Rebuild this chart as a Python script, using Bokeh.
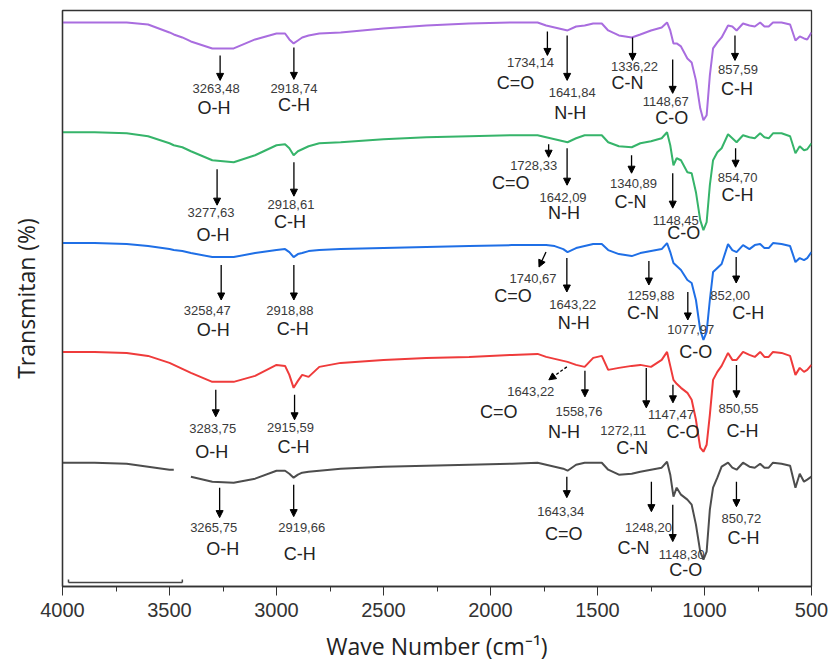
import numpy as np
from bokeh.plotting import figure
from bokeh.models import Range1d, FixedTicker, Arrow, NormalHead, Label
from bokeh.embed import file_html
from bokeh.resources import INLINE

nan = float("nan")

# ---------------- data ----------------
wavenumber = [4000, 3850, 3700, 3600, 3500, 3480, 3440, 3400, 3300, 3200,
              3100, 3000, 2960, 2940, 2920, 2900, 2880, 2850, 2800, 2700,
              2500, 2300, 2100, 1900, 1780, 1740, 1700, 1660, 1640, 1600,
              1560, 1520, 1480, 1450, 1400, 1340, 1300, 1250, 1200, 1175,
              1160, 1145, 1130, 1110, 1080, 1060, 1040, 1020, 1005, 990,
              975, 960, 940, 920, 890, 870, 850, 820, 790, 765,
              740, 720, 700, 680, 640, 600, 575, 555, 535, 520,
              500]

t_purple = [578, 578, 578, 576, 568, 566, 563, 559, 552, 552,
            561, 567, 567, 561, 557, 560, 563, 565, 567, 568,
            572, 575, 577, 578, 578, 575, 573, 571, 570, 574,
            575, 577, 577, 570, 565, 563, 566, 570, 573, 578,
            570, 557, 557, 554, 542, 538, 520, 492, 480, 485,
            525, 552, 558, 563, 575, 574, 570, 577, 575, 574,
            578, 574, 574, 578, 578, 576, 560, 564, 562, 561,
            568]

t_green = [468, 468, 467, 464, 457, 455, 453, 449, 440, 438,
           445, 455, 456, 452, 445, 449, 451, 454, 457, 458,
           461, 463, 464, 465, 465, 463, 461, 459, 458, 462,
           465, 465, 465, 458, 454, 453, 457, 459, 462, 468,
           455, 435, 442, 440, 428, 427, 408, 380, 370, 378,
           415, 440, 448, 452, 466, 462, 458, 465, 463, 462,
           467, 463, 462, 467, 467, 464, 447, 454, 450, 451,
           457]

t_blue = [357, 357, 356, 354, 351, 350, 349, 347, 343, 343,
          347, 350, 351, 348, 343, 346, 347, 349, 350, 351,
          352, 353, 354, 355, 355, 355, 354, 351, 348, 352,
          354, 356, 356, 350, 346, 344, 347, 349, 351, 357,
          348, 337, 334, 330, 320, 317, 300, 270, 260, 268,
          300, 328, 332, 336, 356, 350, 348, 355, 351, 355,
          356, 352, 352, 357, 356, 354, 338, 342, 340, 342,
          348]

t_red = [248, 248, 247, 244, 237, 235, 231, 227, 218, 218,
         224, 235, 234, 225, 212, 219, 225, 223, 233, 237,
         240, 242, 243, 245, 246, 243, 241, 239, 238, 235,
         233, 242, 244, 230, 232, 234, 235, 233, 240, 248,
         234, 220, 216, 212, 207, 200, 180, 152, 148, 155,
         185, 220, 228, 234, 247, 240, 240, 248, 245, 243,
         248, 243, 243, 248, 247, 244, 225, 232, 228, 230,
         235]

t_grey = [137, 137, 136, 133, 130, 130, nan, 123, 118, 117,
          121, 129, 129, 126, 122, 125, 127, 128, 129, 131,
          133, 134, 135, 136, 137, 135, 133, 131, 129, 135,
          137, 137, 137, 130, 125, 126, 128, 130, 132, 138,
          125, 103, 112, 105, 100, 95, 75, 48, 40, 48,
          90, 112, 122, 133, 137, 132, 130, 137, 133, 132,
          136, 132, 132, 137, 136, 134, 112, 126, 118, 120,
          123]

peaks_purple = ["3263,48", "2918,74", "1734,14", "1641,84", "1336,22", "1148,67", "857,59"]
groups_purple = ["O-H", "C-H", "C=O", "N-H", "C-N", "C-O", "C-H"]
peaks_green = ["3277,63", "2918,61", "1728,33", "1642,09", "1340,89", "1148,45", "854,70"]
groups_green = ["O-H", "C-H", "C=O", "N-H", "C-N", "C-O", "C-H"]
peaks_blue = ["3258,47", "2918,88", "1740,67", "1643,22", "1259,88", "1077,97", "852,00"]
groups_blue = ["O-H", "C-H", "C=O", "N-H", "C-N", "C-O", "C-H"]
peaks_red = ["3283,75", "2915,59", "1643,22", "1558,76", "1272,11", "1147,47", "850,55"]
groups_red = ["O-H", "C-H", "C=O", "N-H", "C-N", "C-O", "C-H"]
peaks_grey = ["3265,75", "2919,66", "1643,34", "1248,20", "1148,30", "850,72"]
groups_grey = ["O-H", "C-H", "C=O", "C-N", "C-O", "C-H"]

x_ticks = [4000, 3500, 3000, 2500, 2000, 1500, 1000, 500]

# ---------------- layout (pixel placements of annotations) ----------------
# (arrow top px, arrow bottom px, number dx, number y px, group dx, group y px, slant px, dashed)
lay_purple = [(55, 80, -4, 88, -6, 108, 0, False), (47, 79, 0, 88, 0, 105, 0, False),
              (31, 55, -17, 62, -32, 83, 0, False), (35, 80, 5, 92, 3, 113, 0, False),
              (37, 60, 2, 66, -5, 83, 0, False), (59, 93, -7, 101, -1, 118, 0, False),
              (35, 60, 3, 69, 2, 89, 0, False)]
lay_green = [(169, 205, -6, 212, -4, 235, 0, False), (162, 196, -3, 204, -4, 222, 0, False),
             (144, 157, -15, 165, -38, 183, 0, False), (148, 185, -4, 197, -3, 213, 0, False),
             (155, 173, 2, 183, -1, 202, 0, False), (173, 208, 3, 220, 11, 233, 0, False),
             (148, 167, 2, 177, 2, 195, 0, False)]
lay_blue = [(265, 300, -14, 311, -8, 330, 0, False), (265, 300, -4, 311, -1, 329, 0, False),
            (252, 267, -13, 278, -33, 296, -7, False), (258, 292, 6, 305, 7, 323, 0, False),
            (261, 285, 2, 295, -6, 313, 0, False), (292, 320, 3, 330, 8, 352, 0, False),
            (257, 283, -6, 295, 12, 313, 0, False)]
lay_red = [(390, 417, -3, 429, -4, 452, 0, False), (395, 420, -4, 428, -1, 447, 0, False),
           (367, 380, -36, 392, -68, 412, -18, True), (371, 397, -6, 412, -21, 432, 0, False),
           (368, 408, -23, 431, -14, 448, 0, False), (385, 403, -2, 415, 10, 432, 0, False),
           (365, 398, 2, 409, 6, 431, 0, False)]
lay_grey = [(488, 518, -6, 528, 3, 549, 0, False), (485, 517, 8, 528, 6, 554, 0, False),
            (477, 498, -6, 512, -3, 534, 0, False), (482, 512, -3, 528, -18, 548, 0, False),
            (505, 542, 9, 555, 13, 570, 0, False), (482, 507, 5, 519, 7, 538, 0, False)]

series = [
    (t_purple, "#a96ddf", peaks_purple, groups_purple, lay_purple),
    (t_green, "#36b46a", peaks_green, groups_green, lay_green),
    (t_blue, "#1f6fe6", peaks_blue, groups_blue, lay_blue),
    (t_red, "#ef3b3b", peaks_red, groups_red, lay_red),
    (t_grey, "#4d4d4d", peaks_grey, groups_grey, lay_grey),
]

TOP_PX = 600  # data y = TOP_PX - pixel row
WN_PER_PX = 3500.0 / 749.0

p = figure(width=830, height=664, x_range=Range1d(4000, 500), y_range=Range1d(13, 590),
           output_backend="svg", toolbar_location=None,
           min_border_left=62, min_border_right=19, min_border_top=10, min_border_bottom=77)
p.background_fill_color = "white"
p.border_fill_color = "white"
p.outline_line_color = "#333333"
p.outline_line_width = 1.3
p.xgrid.visible = False
p.ygrid.visible = False

# x axis
minor = [v + 250 for v in x_ticks[1:]]
p.xaxis.ticker = FixedTicker(ticks=x_ticks, minor_ticks=minor)
p.xaxis.major_tick_out = 9
p.xaxis.major_tick_in = 0
p.xaxis.minor_tick_out = 5
p.xaxis.minor_tick_in = 0
p.xaxis.axis_line_color = "#333333"
p.xaxis.axis_line_width = 1.3
p.xaxis.major_tick_line_color = "#333333"
p.xaxis.minor_tick_line_color = "#333333"
p.xaxis.major_label_text_font = "Liberation Sans"
p.xaxis.major_label_text_font_size = "20px"
p.xaxis.major_label_text_color = "#333333"
p.xaxis.major_label_standoff = 7
p.xaxis.axis_label = "Wave Number (cm\u207b\u00b9)"
p.xaxis.axis_label_text_font = "Open Sans"
p.xaxis.axis_label_text_font_size = "23px"
p.xaxis.axis_label_text_font_style = "normal"
p.xaxis.axis_label_text_color = "#222222"
p.xaxis.axis_label_standoff = 10

# y axis: no ticks, no tick labels
p.yaxis.ticker = FixedTicker(ticks=[], minor_ticks=[])
p.yaxis.major_tick_out = 0
p.yaxis.major_tick_in = 0
p.yaxis.minor_tick_out = 0
p.yaxis.minor_tick_in = 0
p.yaxis.major_label_standoff = 0
p.yaxis.axis_line_color = "#333333"
p.yaxis.axis_line_width = 1.3
p.yaxis.axis_label = "Transmitan (%)"
p.yaxis.axis_label_text_font = "Open Sans"
p.yaxis.axis_label_text_font_size = "23px"
p.yaxis.axis_label_text_font_style = "normal"
p.yaxis.axis_label_text_color = "#222222"
p.yaxis.axis_label_standoff = 21

wn = np.array(wavenumber, dtype=float)
for vals, color, peaks, groups, lay in series:
    p.line(wn, np.array(vals, dtype=float), line_color=color, line_width=2)
    for pk, grp, (yt, yb, ndx, ny, gdx, gy, slant, dashed) in zip(peaks, groups, lay):
        xv = float(pk.replace(",", "."))
        x_end = xv - slant * WN_PER_PX
        arr = Arrow(end=NormalHead(size=7, fill_color="black", line_color="black", line_width=1),
                    x_start=xv, y_start=TOP_PX - yt, x_end=x_end, y_end=TOP_PX - yb,
                    line_color="black", line_width=1.3,
                    line_dash="3 2" if dashed else "solid")
        p.add_layout(arr)
        p.add_layout(Label(x=xv, y=TOP_PX - ny, x_offset=ndx, text=pk,
                           text_align="center", text_baseline="middle",
                           text_font="Liberation Sans", text_font_size="13px",
                           text_color="#3a3a3a"))
        p.add_layout(Label(x=xv, y=TOP_PX - gy, x_offset=gdx, text=grp,
                           text_align="center", text_baseline="middle",
                           text_font="Liberation Sans", text_font_size="18px",
                           text_color="#222222"))

# small bar near the bottom left of the frame
scale_bar_x = [3972, 3440]
p.line(scale_bar_x, [17, 17], line_color="#444444", line_width=1.5)
p.segment(x0=scale_bar_x, y0=[17, 17], x1=scale_bar_x, y1=[20, 20],
          line_color="#444444", line_width=1.5)

open("out.html", "w").write(file_html(p, INLINE))
